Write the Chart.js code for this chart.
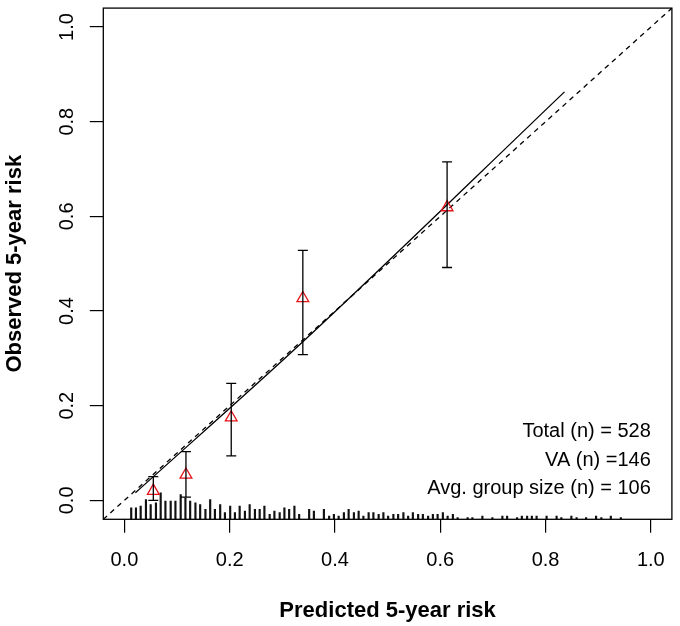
<!DOCTYPE html>
<html><head><meta charset="utf-8">
<script src="https://cdn.jsdelivr.net/npm/chart.js@4/dist/chart.umd.min.js"></script>
<style>html,body{margin:0;padding:0;background:#fff}#wrap{width:680px;height:626px}</style>
</head><body><div id="wrap"><canvas id="c" width="680" height="626"></canvas></div>
<script>
// ---- data ----
const axisTicks = [0, 0.2, 0.4, 0.6, 0.8, 1.0];
const tickLabels = ['0.0', '0.2', '0.4', '0.6', '0.8', '1.0'];
const predicted = [0.055, 0.117, 0.203, 0.339, 0.613];
const observed  = [0.020, 0.054, 0.175, 0.427, 0.619];
const ciLower   = [0.000, 0.007, 0.094, 0.308, 0.492];
const ciUpper   = [0.050, 0.103, 0.247, 0.528, 0.715];
const calX = [0.021, 0.340, 0.836];
const calY = [0.016, 0.336, 0.863];
const idealX = [-0.04, 1.04];
const idealY = [-0.04, 1.04];
const spikeX = [0.013,0.022,0.031,0.041,0.050,0.060,0.069,0.078,0.088,0.097,
  0.107,0.116,0.125,0.135,0.144,0.154,0.163,0.172,0.182,0.191,
  0.201,0.210,0.219,0.229,0.238,0.248,0.257,0.266,0.276,0.285,
  0.295,0.304,0.313,0.323,0.332,0.342,0.351,0.360,0.370,0.379,
  0.389,0.398,0.407,0.417,0.426,0.436,0.445,0.454,0.464,0.473,
  0.483,0.492,0.501,0.511,0.520,0.530,0.539,0.548,0.558,0.567,
  0.577,0.586,0.595,0.605,0.614,0.624,0.633,0.642,0.652,0.661,
  0.671,0.680,0.689,0.699,0.708,0.718,0.727,0.736,0.746,0.755,
  0.765,0.774,0.783,0.793,0.802,0.812,0.821,0.830,0.840,0.849,
  0.859,0.868,0.877,0.887,0.896,0.906,0.915,0.924,0.934,0.943];
const spikeCount = [7,7,8,12,9,10,16,11,11,11,
  15,13,11,10,9,6,12,6,9,4,
  8,4,8,5,9,6,6,8,3,5,
  4,7,6,8,3,0,6,5,0,6,
  2,3,2,4,6,4,5,2,4,4,
  3,4,2,3,3,4,2,4,3,3,
  2,3,3,4,2,3,1,0,1,1,
  0,2,0,1,0,2,2,0,1,2,
  2,2,2,0,2,0,2,1,0,2,
  1,0,1,0,2,1,0,2,0,1];
const notes = ['Total (n) = 528', 'VA (n) =146', 'Avg. group size (n) = 106'];
const xTitle = 'Predicted 5-year risk';
const yTitle = 'Observed 5-year risk';

const FONT = "'Liberation Sans', Arial, Helvetica, sans-serif";

const decor = {
  id: 'decor',
  afterDatasetsDraw(chart) {
    const ctx = chart.ctx, xs = chart.scales.x, ys = chart.scales.y, a = chart.chartArea;
    ctx.save();
    ctx.strokeStyle = '#000'; ctx.lineWidth = 1.3;
    for (let i = 0; i < predicted.length; i++) {
      const px = xs.getPixelForValue(predicted[i]);
      const lo = ys.getPixelForValue(ciLower[i]);
      const hi = ys.getPixelForValue(ciUpper[i]);
      ctx.beginPath();
      ctx.moveTo(px, lo); ctx.lineTo(px, hi);
      ctx.moveTo(px - 5, lo); ctx.lineTo(px + 5, lo);
      ctx.moveTo(px - 5, hi); ctx.lineTo(px + 5, hi);
      ctx.stroke();
    }
    ctx.lineWidth = 1.3;
    ctx.strokeRect(a.left, a.top, a.right - a.left, a.bottom - a.top);
    ctx.restore();
  },
  afterDraw(chart) {
    const ctx = chart.ctx, xs = chart.scales.x, ys = chart.scales.y, a = chart.chartArea;
    ctx.save();
    ctx.fillStyle = '#000';
    ctx.font = '20px ' + FONT;
    ctx.textAlign = 'center'; ctx.textBaseline = 'alphabetic';
    axisTicks.forEach((v, i) => ctx.fillText(tickLabels[i], xs.getPixelForValue(v), 566));
    axisTicks.forEach((v, i) => {
      ctx.save();
      ctx.translate(72.5, ys.getPixelForValue(v));
      ctx.rotate(-Math.PI / 2);
      ctx.fillText(tickLabels[i], 0, 0);
      ctx.restore();
    });
    ctx.textAlign = 'right';
    const nx = xs.getPixelForValue(1.0);
    [437.3, 465.7, 494].forEach((y, i) => ctx.fillText(notes[i], nx, y));
    ctx.font = 'bold 22px ' + FONT;
    ctx.textAlign = 'center';
    ctx.fillText(xTitle, (a.left + a.right) / 2, 617);
    ctx.save();
    ctx.translate(21, (a.top + a.bottom) / 2);
    ctx.rotate(-Math.PI / 2);
    ctx.fillText(yTitle, 0, 0);
    ctx.restore();
    ctx.restore();
  }
};

const gridOpts = { drawOnChartArea: false, drawTicks: true, tickLength: 13.5, color: '#000', lineWidth: 1.2, offset: false };

new Chart(document.getElementById('c'), {
  data: {
    datasets: [
      {
        type: 'bar', label: 'spikes', order: 5, yAxisID: 'yh',
        data: spikeX.map((x, i) => ({ x: x, y: spikeCount[i] })),
        backgroundColor: '#111', borderWidth: 0, barThickness: 1.5, grouped: false
      },
      {
        type: 'line', label: 'ideal', order: 4,
        data: idealX.map((x, i) => ({ x: x, y: idealY[i] })),
        borderColor: '#000', borderWidth: 1.3, borderDash: [5, 4.5], pointRadius: 0, fill: false
      },
      {
        type: 'line', label: 'calibration', order: 3,
        data: calX.map((x, i) => ({ x: x, y: calY[i] })),
        borderColor: '#000', borderWidth: 1.3, pointRadius: 0, fill: false, cubicInterpolationMode: 'monotone'
      },
      {
        type: 'scatter', label: 'groups', order: 1,
        data: predicted.map((x, i) => ({ x: x, y: observed[i] })),
        pointStyle: 'triangle', pointRadius: 6.8, borderColor: '#e3151a', borderWidth: 1.3,
        backgroundColor: 'rgba(0,0,0,0)'
      }
    ]
  },
  options: {
    responsive: false, animation: false, devicePixelRatio: 1,
    layout: { padding: { top: 1, right: 3.3, left: 0, bottom: 0 } },
    plugins: { legend: { display: false }, tooltip: { enabled: false } },
    scales: {
      x: {
        type: 'linear', position: 'bottom', min: -0.04, max: 1.04, offset: false,
        afterBuildTicks: s => { s.ticks = axisTicks.map(v => ({ value: v })); },
        afterFit: s => { s.height = 106.7; },
        ticks: { display: false }, grid: gridOpts, border: { display: false }
      },
      y: {
        type: 'linear', position: 'left', min: -0.04, max: 1.04,
        afterBuildTicks: s => { s.ticks = axisTicks.map(v => ({ value: v })); },
        afterFit: s => { s.width = 103.3; },
        ticks: { display: false }, grid: gridOpts, border: { display: false }
      },
      yh: { type: 'linear', display: false, min: 0, max: 310 }
    }
  },
  plugins: [decor]
});
</script>
</body></html>
